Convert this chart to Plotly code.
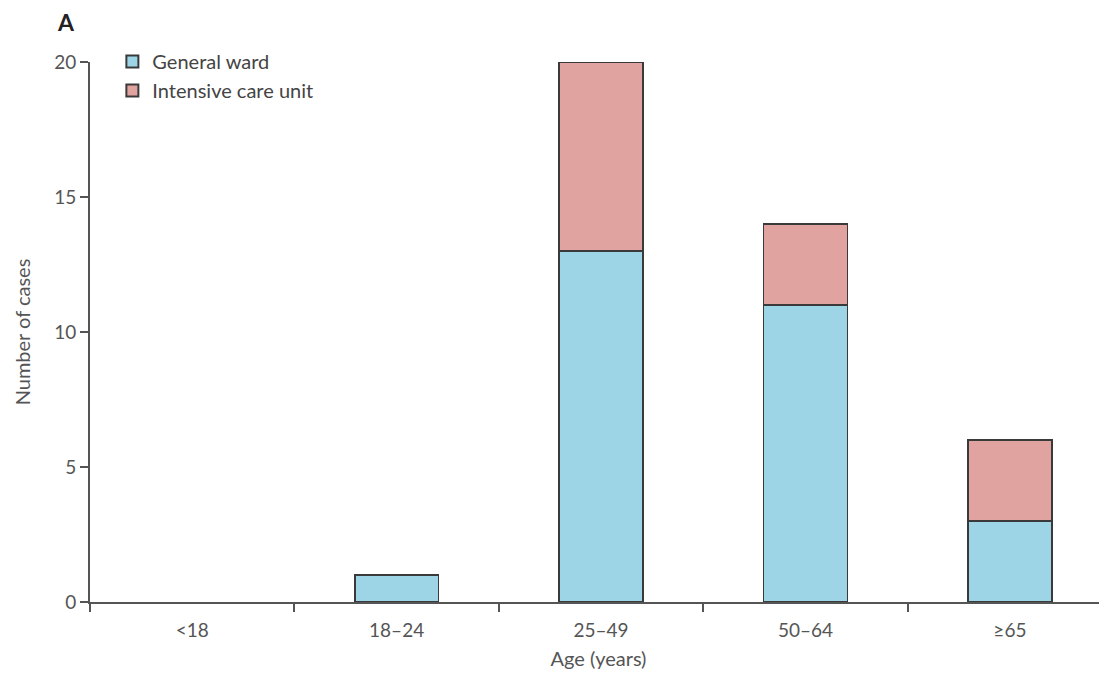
import plotly.graph_objects as go

categories = ["<18", "18–24", "25–49", "50–64", "≥65"]
general_ward = [0, 1, 13, 11, 3]
icu = [0, 0, 7, 3, 3]

FONT = "Lato"
GREY = "#555555"
LINE = "#3a3a3a"

def edge_widths(vals):
    return [0 if v == 0 else 1.6 for v in vals]

fig = go.Figure()
fig.add_trace(go.Bar(x=categories, y=general_ward, name="General ward",
                     marker=dict(color="#9dd5e6", line=dict(color=LINE, width=edge_widths(general_ward))),
                     width=0.41, legendgroup="g"))
fig.add_trace(go.Bar(x=categories, y=icu, name="Intensive care unit",
                     marker=dict(color="#e0a3a0", line=dict(color=LINE, width=edge_widths(icu))),
                     width=0.41, legendgroup="i"))

W, H = 1099, 671
L, T, B = 82, 54, 77
fig.update_layout(
    barmode="stack",
    width=W, height=H,
    margin=dict(l=L, r=0, t=T, b=B),
    plot_bgcolor="white", paper_bgcolor="white",
    font=dict(family=FONT, size=19, color=GREY),
    showlegend=True,
    legend=dict(x=0.022, y=1.037, xanchor="left", yanchor="top",
                bgcolor="rgba(0,0,0,0)", font=dict(size=20, color="#444"),
                traceorder="normal", itemsizing="constant", tracegroupgap=5),
    xaxis=dict(range=[-0.5, 4.475], showline=True, linecolor="#555", linewidth=2,
               ticks="outside", tickson="boundaries", ticklen=8, tickwidth=2, tickcolor="#555",
               showgrid=False, zeroline=False, ticklabelstandoff=10,
               tickfont=dict(size=19, color=GREY),
               title=dict(text="Age (years)", font=dict(size=20, color=GREY), standoff=12)),
    yaxis=dict(range=[0, 20], showline=True, linecolor="#555", linewidth=2,
               ticks="outside", ticklen=8, tickwidth=2, tickcolor="#555",
               tickvals=[0, 5, 10, 15, 20], showgrid=False, zeroline=False,
               tickfont=dict(size=19, color=GREY),
               title=dict(text="Number of cases", font=dict(size=20, color=GREY), standoff=18)),
)
pw, ph = W - L, H - T - B
fig.add_annotation(text="<b>A</b>", x=(58 - L) / pw, y=(594 - 14) / ph,
                   xref="paper", yref="paper", showarrow=False, xanchor="center", yanchor="middle",
                   font=dict(size=23, color="#222", family=FONT))

fig.write_html("out.html")
